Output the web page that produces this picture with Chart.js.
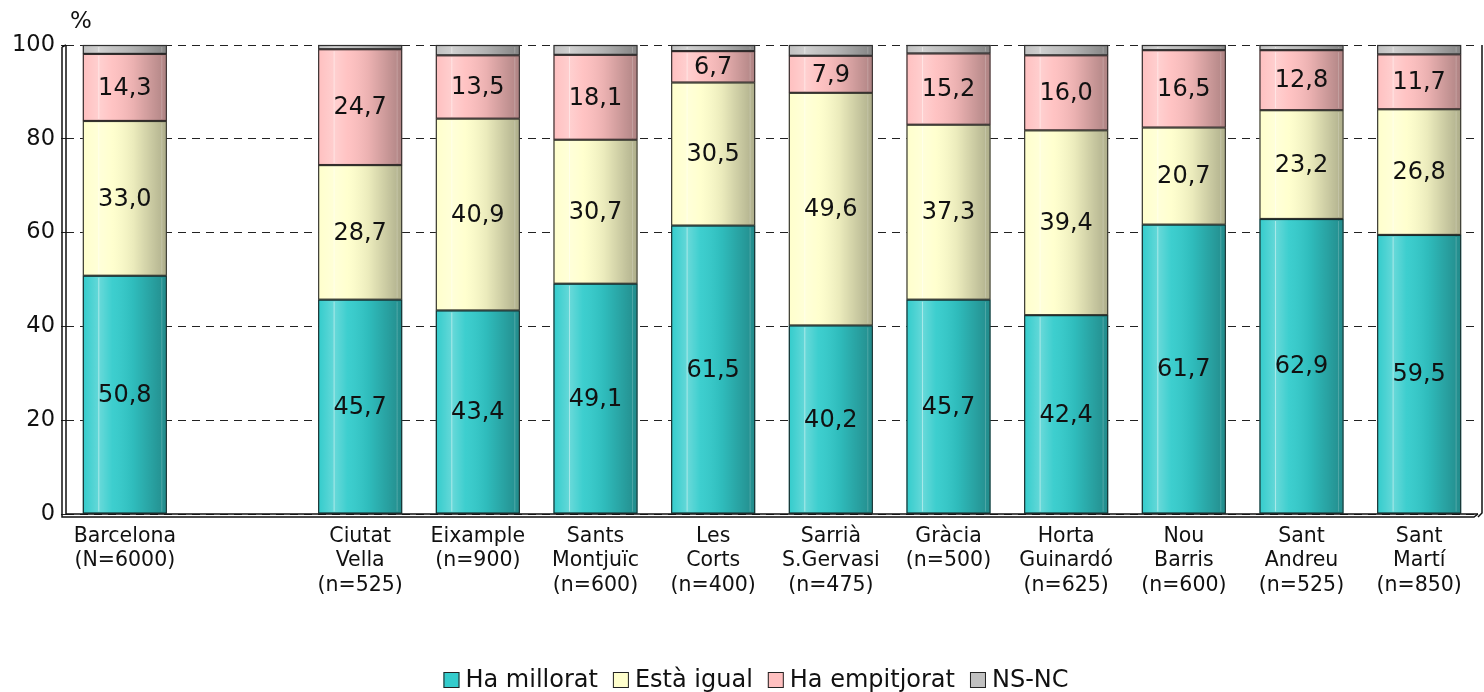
<!DOCTYPE html>
<html><head><meta charset="utf-8">
<script src="https://cdn.jsdelivr.net/npm/chart.js@4.4.1/dist/chart.umd.min.js"></script>
<style>html,body{margin:0;padding:0;background:#fff;}#wrap{width:1484px;height:692px;}</style>
</head><body><div id="wrap"><canvas id="c" width="1484" height="692"></canvas></div>
<script>
const categories = [
  ["Barcelona","(N=6000)"], [""],
  ["Ciutat","Vella","(n=525)"], ["Eixample","(n=900)"], ["Sants","Montjuïc","(n=600)"],
  ["Les","Corts","(n=400)"], ["Sarrià","S.Gervasi","(n=475)"], ["Gràcia","(n=500)"],
  ["Horta","Guinardó","(n=625)"], ["Nou","Barris","(n=600)"], ["Sant","Andreu","(n=525)"],
  ["Sant","Martí","(n=850)"]
];
const haMillorat   = [50.8, null, 45.7, 43.4, 49.1, 61.5, 40.2, 45.7, 42.4, 61.7, 62.9, 59.5];
const estaIgual    = [33.0, null, 28.7, 40.9, 30.7, 30.5, 49.6, 37.3, 39.4, 20.7, 23.2, 26.8];
const haEmpitjorat = [14.3, null, 24.7, 13.5, 18.1, 6.7, 7.9, 15.2, 16.0, 16.5, 12.8, 11.7];
const nsnc         = [1.9, null, 0.9, 2.2, 2.1, 1.3, 2.3, 1.8, 2.2, 1.1, 1.1, 2.0];
const yTicks = [0, 20, 40, 60, 80, 100];
const seriesNames = ["Ha millorat", "Està igual", "Ha empitjorat", "NS-NC"];
const seriesColors = ["#33CCCC", "#FFFFCC", "#FFC0C0", "#C0C0C0"];

const FONT = "'DejaVu Sans', Verdana, sans-serif";

const shadePlugin = {
  id: 'shade',
  afterDatasetsDraw(chart) {
    const ctx = chart.ctx;
    chart.data.datasets.forEach((ds, di) => {
      const meta = chart.getDatasetMeta(di);
      meta.data.forEach((el, i) => {
        if (ds.data[i] == null) return;
        const p = el.getProps(['x','y','base','width'], true);
        const l = p.x - p.width/2, r = p.x + p.width/2;
        const top = Math.min(p.y, p.base), bot = Math.max(p.y, p.base);
        const g = ctx.createLinearGradient(l, 0, r, 0);
        g.addColorStop(0, 'rgba(255,255,255,0.0)');
        g.addColorStop(0.2, 'rgba(255,255,255,0.25)');
        g.addColorStop(0.35, 'rgba(255,255,255,0.05)');
        g.addColorStop(0.6, 'rgba(0,0,0,0.08)');
        g.addColorStop(1, 'rgba(0,0,0,0.32)');
        ctx.save();
        ctx.fillStyle = g;
        ctx.fillRect(l+1, top+1, p.width-2, bot-top-2);
        ctx.strokeStyle = 'rgba(255,255,255,0.45)';
        ctx.lineWidth = 1;
        ctx.beginPath();
        ctx.moveTo(l + p.width*0.19, top+2); ctx.lineTo(l + p.width*0.19, bot-2);
        ctx.stroke();
        ctx.strokeStyle = 'rgba(255,255,255,0.2)';
        ctx.beginPath();
        ctx.moveTo(l + p.width*0.94, top+2); ctx.lineTo(l + p.width*0.94, bot-2);
        ctx.stroke();
        ctx.strokeStyle = 'rgba(20,20,20,0.85)';
        ctx.lineWidth = 1.2;
        ctx.strokeRect(l+0.5, top+0.5, p.width-1, bot-top-1);
        ctx.restore();
        if (di < 3) {
          ctx.save();
          ctx.fillStyle = '#111';
          ctx.font = '24px ' + FONT;
          ctx.textAlign = 'center';
          ctx.textBaseline = 'middle';
          ctx.fillText(ds.data[i].toFixed(1).replace('.', ','), p.x, (top+bot)/2 + 1);
          ctx.restore();
        }
      });
    });
  }
};

const frame = {
  id: 'frame',
  afterDatasetsDraw(chart) {
    const {ctx, chartArea: a} = chart;
    ctx.save();
    ctx.strokeStyle = '#111';
    ctx.lineWidth = 1.5;
    ctx.beginPath();
    ctx.moveTo(a.left, a.top); ctx.lineTo(a.left, a.bottom); ctx.lineTo(a.right, a.bottom);
    ctx.stroke();
    ctx.beginPath();
    ctx.moveTo(a.left-4, a.top+2); ctx.lineTo(a.left-4, a.bottom+3); ctx.lineTo(a.right-4, a.bottom+3);
    ctx.lineTo(a.right, a.bottom);
    ctx.moveTo(a.left-4, a.top+2); ctx.lineTo(a.left, a.top);
    ctx.moveTo(a.right+4, a.top); ctx.lineTo(a.right+4, a.bottom-1); ctx.lineTo(a.right, a.bottom+3);
    ctx.stroke();
    ctx.fillStyle = '#111';
    ctx.font = '23px ' + FONT;
    ctx.textAlign = 'left';
    ctx.textBaseline = 'middle';
    ctx.fillText('%', a.left + 4, 22);
    ctx.restore();
  }
};

const legendPlugin = {
  id: 'customLegend',
  afterDraw(chart) {
    const ctx = chart.ctx;
    const box = 16, gapText = 6, gapItem = 15, cy = 680;
    ctx.save();
    ctx.font = '24px ' + FONT;
    const items = chart.data.datasets.map(d => ({ text: d.label, color: d.backgroundColor, w: ctx.measureText(d.label).width }));
    const total = items.reduce((s, it) => s + box + gapText + it.w, 0) + gapItem * (items.length - 1);
    let x = chart.width / 2 + 14 - total / 2;
    ctx.textBaseline = 'middle';
    ctx.textAlign = 'left';
    items.forEach(it => {
      ctx.fillStyle = it.color;
      ctx.fillRect(x, cy - box/2, box, box);
      ctx.strokeStyle = '#222';
      ctx.lineWidth = 1;
      ctx.strokeRect(x + 0.5, cy - box/2 + 0.5, box - 1, box - 1);
      ctx.fillStyle = '#111';
      ctx.fillText(it.text, x + box + gapText, cy + 1);
      x += box + gapText + it.w + gapItem;
    });
    ctx.restore();
  }
};

new Chart(document.getElementById('c'), {
  type: 'bar',
  data: {
    labels: categories,
    datasets: seriesNames.map((n, k) => ({
      label: n,
      data: [haMillorat, estaIgual, haEmpitjorat, nsnc][k],
      backgroundColor: seriesColors[k],
      borderWidth: 0,
      barPercentage: 0.714,
      categoryPercentage: 1.0
    }))
  },
  options: {
    responsive: false,
    animation: false,
    layout: { padding: { top: 45, right: 6, left: 0, bottom: 0 } },
    plugins: {
      tooltip: { enabled: false },
      legend: { display: false }
    },
    scales: {
      x: {
        stacked: true,
        grid: { display: false },
        border: { display: false },
        ticks: { font: { family: FONT, size: 20.5 }, color: '#111', maxRotation: 0, autoSkip: false, padding: 2 },
        afterFit(s) { s.height = 692 - 514; }
      },
      y: {
        stacked: true,
        min: 0, max: 100,
        afterBuildTicks(s) { s.ticks = yTicks.map(v => ({ value: v })); },
        grid: { color: '#222', lineWidth: 1, drawTicks: true, tickLength: 5, tickColor: '#222' },
        border: { display: false, dash: [8, 6] },
        ticks: { font: { family: FONT, size: 22.5 }, color: '#111', padding: 6 },
        afterFit(s) { s.width = 66; }
      }
    }
  },
  plugins: [shadePlugin, frame, legendPlugin]
});
</script></body></html>
